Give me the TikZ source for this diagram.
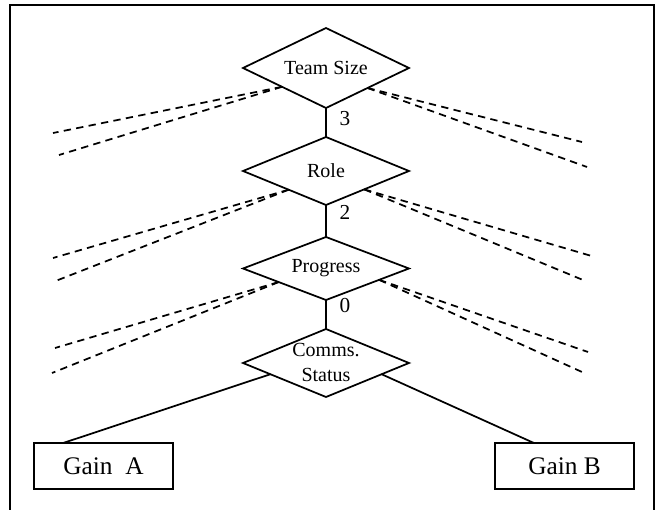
\documentclass[tikz,border=0pt]{standalone}
\usepackage{fontspec}
\setmainfont{Liberation Serif}
\usetikzlibrary{shapes.geometric,calc}

\tikzset{every picture/.style={line width=1.3pt}}
\tikzset{
  decision/.style={draw, diamond, inner sep=0pt, outer sep=0pt, minimum width=124.5pt, font=\fontsize{15}{18.75}\selectfont},
  gainbox/.style={draw, rectangle, outer sep=0pt, minimum width=104.25pt, minimum height=34.5pt, font=\fontsize{19}{22}\selectfont},
  branch/.style={dash pattern=on 5.5pt off 4pt},
  edgelabel/.style={inner sep=0pt, font=\fontsize{16}{18}\selectfont},
}

\begin{document}
\begin{tikzpicture}[x=0.75pt,y=0.75pt,yscale=-1,xscale=1]
	\useasboundingbox (0,0) rectangle (658,510);

	%Frame
	\draw [line width=1.6pt] (10,510) -- (10,5) -- (654,5) -- (654,510) ;

	% Text Node
	\node [decision, aspect=2.08, minimum height=60pt] (team) at (326,68) {Team Size};
	% Text Node
	\node [decision, aspect=2.46, minimum height=51pt] (role) at (326,171) {Role};
	% Text Node
	\node [decision, aspect=2.65, minimum height=47.25pt] (progress) at (326,268.5) {Progress};
	% Text Node
	\node [decision, aspect=2.46, minimum height=51pt] (comms) at (326,363) {};
	\node [align=center, inner sep=0pt, font=\fontsize{15}{18.75}\selectfont] (commstext) at (326,362) {Comms.\\Status};
	% Text Node
	\node [gainbox] (gainA) at (103.5,466) {Gain~ A};
	% Text Node
	\node [gainbox] (gainB) at (564.5,466) {Gain B};

	%Straight Lines
	\draw (team) -- (role) ;
	\draw (role) -- (progress) ;
	\draw (progress) -- (comms) ;
	% Text Node
	\draw (345,119) node [edgelabel] (lbl3) {3};
	% Text Node
	\draw (345,212) node [edgelabel] (lbl2) {2};
	% Text Node
	\draw (345,306) node [edgelabel] (lbl0) {0};

	%Straight Lines
	\draw ($(comms.west)!0.33!(comms.south)$) -- ($(gainA.north west)!0.21!(gainA.north east)$) ;
	\draw ($(comms.south)!0.67!(comms.east)$) -- ($(gainB.north west)!0.28!(gainB.north east)$) ;

	%Dashed Lines
	\coordinate (teamL1) at (53,133);
	\coordinate (teamL2) at (59,155);
	\coordinate (teamR1) at (582,142);
	\coordinate (teamR2) at (587,167);
	\draw [branch] ($(team.west)!0.47!(team.south)$) -- (teamL1) ;
	\draw [branch] ($(team.west)!0.47!(team.south)$) -- (teamL2) ;
	\draw [branch] ($(team.south)!0.5!(team.east)$) -- (teamR1) ;
	\draw [branch] ($(team.south)!0.5!(team.east)$) -- (teamR2) ;

	\coordinate (roleL1) at (53,258);
	\coordinate (roleL2) at (53,282);
	\coordinate (roleR1) at (595,257);
	\coordinate (roleR2) at (583,280);
	\draw [branch] ($(role.west)!0.55!(role.south)$) -- (roleL1) ;
	\draw [branch] ($(role.west)!0.55!(role.south)$) -- (roleL2) ;
	\draw [branch] ($(role.south)!0.46!(role.east)$) -- (roleR1) ;
	\draw [branch] ($(role.south)!0.46!(role.east)$) -- (roleR2) ;

	\coordinate (progL1) at (55,348);
	\coordinate (progL2) at (52,373);
	\coordinate (progR1) at (588,352);
	\coordinate (progR2) at (582,372);
	\draw [branch] ($(progress.west)!0.43!(progress.south)$) -- (progL1) ;
	\draw [branch] ($(progress.west)!0.43!(progress.south)$) -- (progL2) ;
	\draw [branch] ($(progress.south)!0.64!(progress.east)$) -- (progR1) ;
	\draw [branch] ($(progress.south)!0.64!(progress.east)$) -- (progR2) ;

\end{tikzpicture}
\end{document}
